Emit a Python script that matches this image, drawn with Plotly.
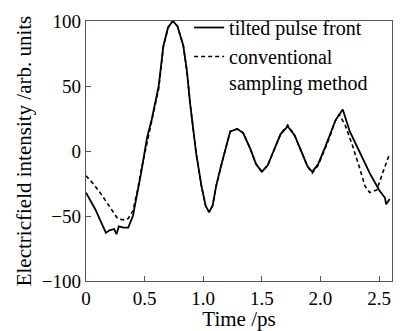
import plotly.graph_objects as go

# Data
time_solid = [0, 0.04, 0.08, 0.12, 0.17, 0.20, 0.24, 0.26, 0.28, 0.32, 0.36, 0.40, 0.44, 0.47,
              0.52, 0.56, 0.62, 0.66, 0.70, 0.74, 0.78, 0.83, 0.86, 0.89, 0.94, 0.985, 1.02,
              1.05, 1.08, 1.11, 1.15, 1.18, 1.23, 1.29, 1.34, 1.40, 1.45, 1.50, 1.55, 1.60,
              1.66, 1.72, 1.78, 1.84, 1.89, 1.93, 1.98, 2.04, 2.08, 2.13, 2.19, 2.25, 2.33,
              2.42, 2.50, 2.55, 2.56, 2.59]
solid = [-32, -38, -45, -53, -63, -61, -60, -64, -58, -59, -59, -50, -32, -17,
         10, 24, 50, 81, 95, 100, 96, 81, 62, 35, -2, -27, -42,
         -47, -42, -27, -12, -2, 15, 17, 14, 2, -10, -16, -11, 0,
         13, 19, 12, -1, -12, -16, -10, 3, 13, 24, 32, 15, 0,
         -17, -30, -36, -41, -37]

time_dashed = [0, 0.06, 0.12, 0.20, 0.27, 0.32, 0.36, 0.40, 0.44, 0.47, 0.52, 0.56, 0.62,
               0.66, 0.70, 0.74, 0.78, 0.83, 0.86, 0.89, 0.94, 0.985, 1.02, 1.05, 1.08,
               1.11, 1.15, 1.18, 1.23, 1.29, 1.34, 1.40, 1.45, 1.50, 1.55, 1.60, 1.66,
               1.72, 1.78, 1.84, 1.89, 1.93, 1.98, 2.04, 2.08, 2.12, 2.16, 2.21, 2.27,
               2.33, 2.38, 2.42, 2.48, 2.53, 2.59]
dashed = [-19, -25, -32, -43, -52, -53, -52, -46, -30, -15, 6, 22, 48,
          80, 95, 100, 96, 81, 62, 35, -2, -27, -42, -47, -42,
          -27, -12, -2, 15, 17, 14, 2, -10, -16, -11, 0, 13,
          20, 12, -1, -12, -17, -11, 2, 11, 22, 28, 20, 5,
          -12, -27, -32, -30, -17, -2]

x_tickvals = [0, 0.5, 1.0, 1.5, 2.0, 2.5]
x_ticktext = ["0", "0.5", "1.0", "1.5", "2.0", "2.5"]
y_tickvals = [-100, -50, 0, 50, 100]

FONT = "Liberation Serif, Times New Roman, serif"

fig = go.Figure()
fig.add_trace(go.Scatter(x=time_solid, y=solid, mode="lines",
                         name="tilted pulse front",
                         line=dict(color="black", width=1.8)))
fig.add_trace(go.Scatter(x=time_dashed, y=dashed, mode="lines",
                         name="conventional<br>sampling method",
                         line=dict(color="black", width=1.6, dash="4px,3px")))

axis_common = dict(showline=True, linecolor="#555", linewidth=1.3, mirror=True,
                   ticks="inside", ticklen=5, tickcolor="#555", tickwidth=1.2,
                   showgrid=False, zeroline=False, automargin=False,
                   tickfont=dict(family=FONT, size=19, color="black"))

fig.update_layout(
    width=400, height=331,
    margin=dict(l=86, r=8, t=13, b=50),
    paper_bgcolor="white", plot_bgcolor="white",
    showlegend=True,
    legend=dict(x=0.337, y=1.05, xanchor="left", yanchor="top",
                bgcolor="rgba(0,0,0,0)", valign="top",
                font=dict(family=FONT, size=20, color="black"),
                tracegroupgap=0, itemwidth=30),
    xaxis=dict(range=[0, 2.61], tickvals=x_tickvals, ticktext=x_ticktext,
               title=dict(text="Time /ps", font=dict(family=FONT, size=21, color="black"),
                          standoff=0),
               **axis_common),
    yaxis=dict(range=[-100, 100], tickvals=y_tickvals,
               title=dict(text="Electricfield intensity /arb. units",
                          font=dict(family=FONT, size=21, color="black"), standoff=4),
               **axis_common),
)

fig.write_html("out.html", config={"displayModeBar": False},
               post_script="document.body.style.margin='0';document.body.style.overflow='hidden';")
